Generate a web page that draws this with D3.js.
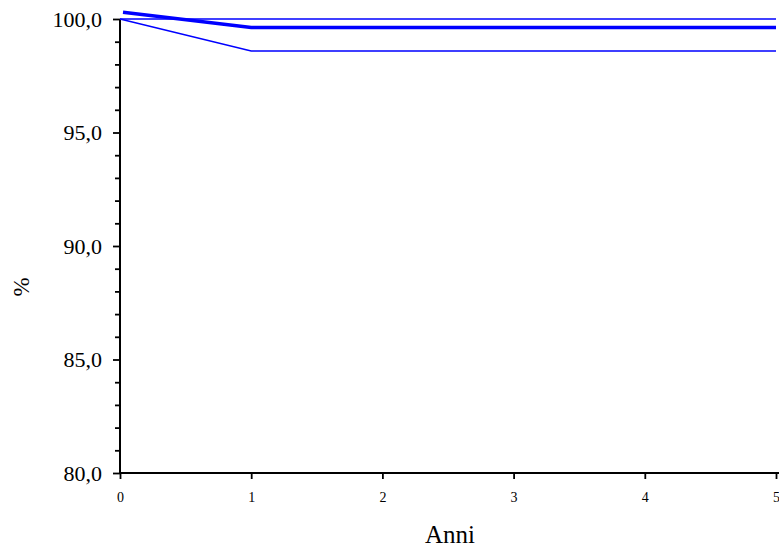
<!DOCTYPE html>
<html>
<head>
<meta charset="utf-8">
<script src="https://cdn.jsdelivr.net/npm/d3@7"></script>
<style>
  body { margin: 0; background: #fff; }
  svg text { font-family: "Liberation Serif", "Times New Roman", serif; }
</style>
</head>
<body>
<svg id="chart" width="779" height="551"></svg>
<script>
// years and survival curves (%)
var anni = [0, 1, 2, 3, 4, 5];
var stima = [100.3, 99.63, 99.63, 99.63, 99.63, 99.63];
var limiteSup = [100, 100, 100, 100, 100, 100];
var limiteInf = [100, 98.59, 98.59, 98.59, 98.59, 98.59];
var yTicks = [80, 85, 90, 95, 100];

var svg = d3.select("#chart");
var x = d3.scaleLinear().domain([0, 5]).range([120, 776]);
var y = d3.scaleLinear().domain([80, 100]).range([473, 19]);
var fmt = function(d) { return d3.format(".1f")(d).replace(".", ","); };

// y axis
var yAxis = svg.append("g").attr("transform", "translate(120,0)")
  .call(d3.axisLeft(y).tickValues(d3.range(80, 100.5, 1)).tickSize(6)
    .tickFormat(function(d) { return yTicks.indexOf(d) >= 0 ? fmt(d) : ""; }));
yAxis.attr("font-family", null).attr("font-size", null);
yAxis.select(".domain").attr("stroke-width", 2).attr("d", "M0,19V473");
yAxis.selectAll(".tick line").attr("stroke-width", 1.8)
  .attr("x2", function(d) { return yTicks.indexOf(d) >= 0 ? -7 : -5; });
yAxis.selectAll(".tick text").style("font-size", "22px").attr("x", -18).attr("fill", "#000");

// x axis
var xAxis = svg.append("g").attr("transform", "translate(0,473)")
  .call(d3.axisBottom(x).tickValues(anni).tickFormat(d3.format("d")).tickSize(6).tickPadding(13));
xAxis.attr("font-family", null).attr("font-size", null);
xAxis.select(".domain").attr("stroke-width", 2).attr("d", "M120,0H779");
xAxis.selectAll(".tick line").attr("stroke-width", 1.8);
xAxis.selectAll(".tick text").style("font-size", "14px").attr("fill", "#000");

svg.append("text").attr("x", 450).attr("y", 543).attr("text-anchor", "middle")
  .style("font-size", "25px").text("Anni");
svg.append("text").attr("transform", "translate(29,287) rotate(-90)")
  .attr("text-anchor", "middle").style("font-size", "23px").text("%");

var line = d3.line().x(function(d, i) { return x(anni[i]); }).y(function(d) { return y(d); });

svg.append("path").datum(limiteSup).attr("d", line)
  .attr("fill", "none").attr("stroke", "#0000ff").attr("stroke-width", 1.5);
svg.append("path").datum(limiteInf).attr("d", line)
  .attr("fill", "none").attr("stroke", "#0000ff").attr("stroke-width", 1.5);
svg.append("path").datum(stima)
  .attr("d", d3.line().x(function(d, i) { return i === 0 ? x(anni[i]) + 3 : x(anni[i]); }).y(function(d) { return y(d); }))
  .attr("fill", "none").attr("stroke", "#0000ff").attr("stroke-width", 3.5);
</script>
</body>
</html>
